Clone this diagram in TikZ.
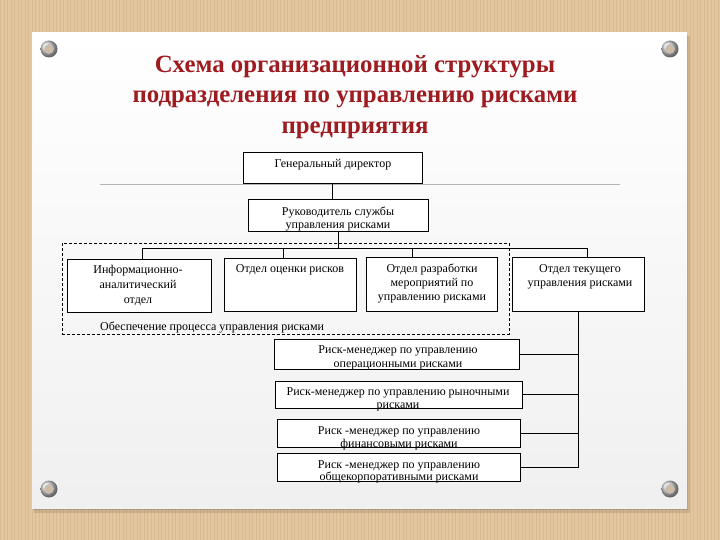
\documentclass[tikz,border=0pt]{standalone}
\usepackage{fontspec}
\setmainfont{Liberation Serif}
\definecolor{bgtan}{HTML}{E3C6A0}
\definecolor{stripetan}{HTML}{D9BA91}
\definecolor{titlered}{HTML}{9E1B20}
\definecolor{pincore}{HTML}{CDBBA8}
\newcommand{\firstln}{\rule{0pt}{9pt}}
\newcommand{\firstttl}{\rule{0pt}{20pt}}
\begin{document}
\begin{tikzpicture}[x=1pt,y=-1pt,
  box/.style={draw=black, line width=0.7pt, fill=white, inner sep=0pt},
  txt/.style={font=\fontsize{12}{14}\selectfont, align=center, inner sep=0pt, anchor=north},
  conn/.style={draw=black, line width=0.7pt},
  grid line/.style={draw=gray!60, line width=0.7pt},
  group/.style={draw=black, line width=0.7pt, dash pattern=on 3pt off 2pt, inner sep=0pt},
  ttl/.style={font=\bfseries\fontsize{24.8}{30.5}\selectfont, text=titlered, align=center, inner sep=0pt, anchor=north}]
% background
\fill[bgtan] (0,0) rectangle (720,540);
\foreach \i in {0,3.5,...,720} \fill[stripetan] (\i,0) rectangle ++(1.2,540);
\useasboundingbox (0,0) rectangle (720,540);
% paper
\fill[black, opacity=0.10] (34,36) rectangle (690,513);
\fill[black, opacity=0.12] (33,35) rectangle (688,510);
\shade[top color=white, bottom color=gray!12] (32,33) rectangle (687,508);
% pins
\foreach \p in {(49,49),(670,49),(49,489),(670,489)} {
  \shade[ball color=gray!30] \p circle (8.5);
  \fill[pincore, draw=gray!50, line width=0.4pt] \p circle (4.5);
}
% title
\node[ttl] (title) at (355,52) {\firstttl Схема организационной структуры\\подразделения по управлению рисками\\предприятия};
% gray rule
\coordinate (hl) at (100,184);
\coordinate (hr) at (620,184);
\draw[grid line] (hl) -- (hr);
% dashed group
\node[group, minimum width=447pt, minimum height=91pt] (grp) at (285.5,288.5) {};
% boxes
\node[box, minimum width=179pt, minimum height=31pt] (gd) at (332.5,167.5) {};
\node[box, minimum width=180pt, minimum height=32pt] (rk) at (338,215) {};
\node[box, minimum width=144pt, minimum height=53pt] (ia) at (139,285.5) {};
\node[box, minimum width=132pt, minimum height=53pt] (oo) at (290,284.5) {};
\node[box, minimum width=131pt, minimum height=54pt] (or) at (431.5,284) {};
\node[box, minimum width=132pt, minimum height=54pt] (ot) at (578,284) {};
\node[box, minimum width=245pt, minimum height=30pt] (r1) at (396.5,354) {};
\node[box, minimum width=247pt, minimum height=27pt] (r2) at (398.5,394.5) {};
\node[box, minimum width=243pt, minimum height=28pt] (r3) at (398.5,433) {};
\node[box, minimum width=243pt, minimum height=28pt] (r4) at (398.5,467) {};
% connectors top
\draw[conn] (gd.south) -- (gd.south |- rk.north);
\coordinate (b1) at (142,248);
\coordinate (b2) at (283,248);
\coordinate (b3) at (412,248);
\coordinate (b4) at (587,248);
\draw[conn] (rk.south) -- (rk.south |- b1);
\draw[conn] (b1) -- (b4);
\draw[conn] (b1) -- (b1 |- ia.north);
\draw[conn] (b2) -- (b2 |- oo.north);
\draw[conn] (b3) -- (b3 |- or.north);
\draw[conn] (b4) -- (b4 |- ot.north);
% right spine
\draw[conn] (ot.south) -- (ot.south |- r4.east) -- (r4.east);
\draw[conn] (r1.east) -- (r1.east -| ot.south);
\draw[conn] (r2.east) -- (r2.east -| ot.south);
\draw[conn] (r3.east) -- (r3.east -| ot.south);
% texts
\node[txt] (gdt) at (333,158) {\firstln Генеральный директор};
\node[txt, font=\fontsize{12}{13}\selectfont] (rkt) at (338,206) {\firstln Руководитель службы\\управления рисками};
\node[txt, font=\fontsize{12}{15}\selectfont] (iat) at (138,264) {\firstln Информационно-\\аналитический\\отдел};
\node[txt] (oot) at (290,263) {\firstln Отдел оценки рисков};
\node[txt] (ort) at (432,263) {\firstln Отдел разработки\\мероприятий по\\управлению рисками};
\node[txt] (ott) at (580,263) {\firstln Отдел текущего\\управления рисками};
\node[font=\fontsize{12}{14}\selectfont, inner sep=0pt, anchor=base west] (grpt) at (100,330) {Обеспечение процесса управления рисками};
\node[txt] (r1t) at (398,344) {\firstln Риск-менеджер по управлению\\операционными рисками};
\node[txt, font=\fontsize{12}{13}\selectfont] (r2t) at (398,386) {\firstln Риск-менеджер по управлению рыночными\\рисками};
\node[txt, font=\fontsize{12}{13}\selectfont] (r3t) at (399,425) {\firstln Риск -менеджер по управлению\\финансовыми рисками};
\node[txt, font=\fontsize{12}{12.5}\selectfont] (r4t) at (399,459) {\firstln Риск -менеджер по управлению\\общекорпоративными рисками};
\end{tikzpicture}
\end{document}
